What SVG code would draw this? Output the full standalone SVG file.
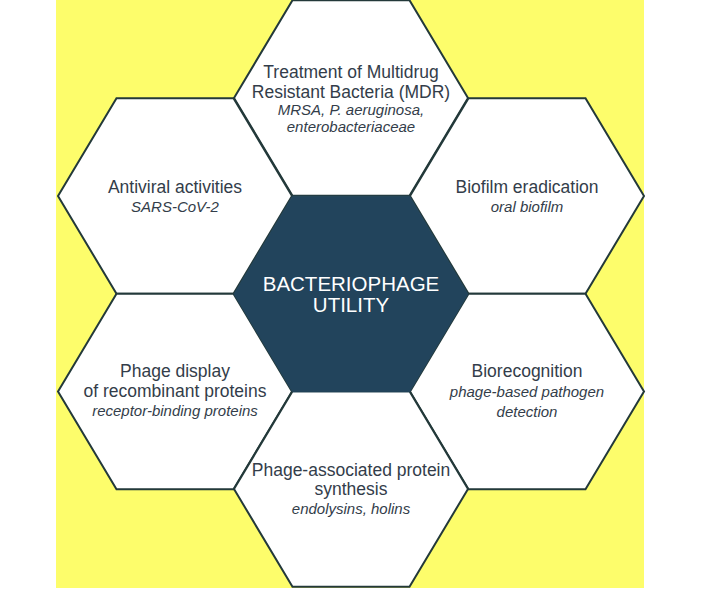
<svg xmlns="http://www.w3.org/2000/svg" width="710" height="592" viewBox="0 0 710 592">
<defs>
<style>
.hex{fill:#ffffff;stroke:#23393a;stroke-width:2;stroke-linejoin:miter}
.core{fill:#22445c;stroke:#22445c;stroke-width:1}
.t{font-family:"Liberation Sans",Arial,sans-serif;font-size:17.5px;fill:#333d4a;text-anchor:middle}
.s{font-family:"Liberation Sans",Arial,sans-serif;font-size:15px;font-style:italic;fill:#333d4a;text-anchor:middle}
.c{font-family:"Liberation Sans",Arial,sans-serif;font-size:20.5px;fill:#ffffff;text-anchor:middle}
</style>
<polygon id="hexshape" points="-117,0 -58.5,-97.8 58.5,-97.8 117,0 58.5,97.8 -58.5,97.8"/>
</defs>
<rect x="56" y="0" width="588" height="588" fill="#fdfd6b"/>
<g id="connectors"></g>
<g id="node-mdr">
<use href="#hexshape" class="hex" transform="translate(351,98)"/>
<text class="t" x="351" y="78">Treatment of Multidrug</text>
<text class="t" x="351" y="98">Resistant Bacteria (MDR)</text>
<text class="s" x="351" y="115">MRSA, P. aeruginosa,</text>
<text class="s" x="351" y="131.5">enterobacteriaceae</text>
</g>
<g id="node-antiviral">
<use href="#hexshape" class="hex" transform="translate(175,196)"/>
<text class="t" x="175" y="192.5">Antiviral activities</text>
<text class="s" x="175" y="212">SARS-CoV-2</text>
</g>
<g id="node-biofilm">
<use href="#hexshape" class="hex" transform="translate(527,196)"/>
<text class="t" x="527" y="192.5">Biofilm eradication</text>
<text class="s" x="527" y="212">oral biofilm</text>
</g>
<g id="node-display">
<use href="#hexshape" class="hex" transform="translate(175,391.5)"/>
<text class="t" x="175" y="377">Phage display</text>
<text class="t" x="175" y="397">of recombinant proteins</text>
<text class="s" x="175" y="416">receptor-binding proteins</text>
</g>
<g id="node-biorecognition">
<use href="#hexshape" class="hex" transform="translate(527,391.5)"/>
<text class="t" x="527" y="377">Biorecognition</text>
<text class="s" x="527" y="397">phage-based pathogen</text>
<text class="s" x="527" y="417">detection</text>
</g>
<g id="node-synthesis">
<use href="#hexshape" class="hex" transform="translate(351,489)"/>
<text class="t" x="351" y="476">Phage-associated protein</text>
<text class="t" x="351" y="495">synthesis</text>
<text class="s" x="351" y="514">endolysins, holins</text>
</g>
<g id="node-center">
<use href="#hexshape" class="core" transform="translate(351,294)"/>
<text class="c" x="351" y="290.5">BACTERIOPHAGE</text>
<text class="c" x="351" y="312">UTILITY</text>
</g>
</svg>
